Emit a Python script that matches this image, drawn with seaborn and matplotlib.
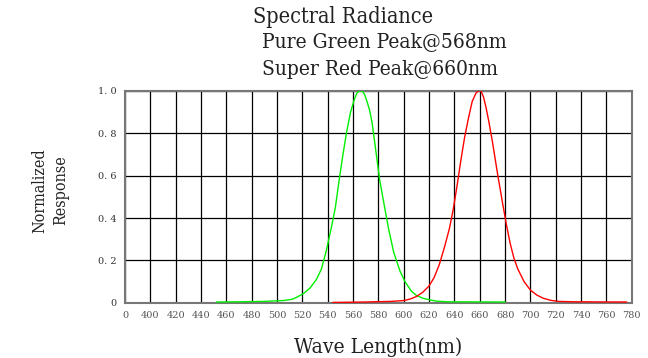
#!/usr/bin/env python3
# -*- coding: utf-8 -*-
"""Spectral radiance of a pure green / super red LED pair, normalized response."""

# =============================================================================
# IMPORTS
# =============================================================================
import matplotlib
matplotlib.use("Agg")
import matplotlib.pyplot as plt  # noqa: E402
import pandas as pd  # noqa: E402
import seaborn as sns  # noqa: E402

# =============================================================================
# DATA
# =============================================================================
green_nm = [452, 470, 490, 505, 512, 516, 521, 526, 531, 535, 539, 543, 546, 549, 552,
            555, 558, 561, 563, 565, 567, 569, 571, 573, 575, 577, 579, 581, 584, 588,
            592, 597, 601, 606, 610, 615, 620, 626, 635, 680]
green_resp = [0.004, 0.005, 0.007, 0.011, 0.017, 0.028, 0.045, 0.07, 0.11, 0.16, 0.25,
              0.36, 0.45, 0.58, 0.70, 0.81, 0.90, 0.96, 0.99, 1.0, 1.0, 0.985, 0.95, 0.91,
              0.85, 0.76, 0.67, 0.58, 0.48, 0.35, 0.24, 0.15, 0.10, 0.055, 0.035, 0.022,
              0.015, 0.008, 0.005, 0.004]

red_nm = [544, 570, 590, 600, 605, 610, 615, 620, 624, 628, 632, 636, 639, 642, 645, 648,
          651, 654, 657, 659, 661, 663, 665, 667, 670, 674, 678, 681, 684, 687, 690, 695,
          700, 705, 710, 716, 722, 735, 776]
red_resp = [0.002, 0.004, 0.007, 0.011, 0.018, 0.03, 0.05, 0.08, 0.12, 0.18, 0.26, 0.35,
            0.44, 0.55, 0.67, 0.78, 0.87, 0.95, 0.99, 1.0, 1.0, 0.97, 0.92, 0.86, 0.76,
            0.61, 0.47, 0.37, 0.28, 0.21, 0.16, 0.10, 0.06, 0.037, 0.022, 0.012, 0.007,
            0.005, 0.004]

x_ticks = list(range(380, 781, 20))
x_tick_labels = ["0"] + [str(v) for v in range(400, 781, 20)]
y_ticks = [0, 0.2, 0.4, 0.6, 0.8, 1.0]
y_tick_labels = ["0", "0. 2", "0. 4", "0. 6", "0. 8", "1. 0"]

title_lines = ["Spectral Radiance", "Pure Green Peak@568nm", "Super Red Peak@660nm"]

# =============================================================================
# PLOTTING
# =============================================================================
sns.set_style("white")
plt.rcParams["font.family"] = ["DejaVu Serif", "DejaVu Sans"]

TEXT_FONT = dict(family="DejaVu Serif", fontstretch="condensed", color="#222222")

fig = plt.figure(figsize=(6.48, 3.58), dpi=100)
ax = fig.add_axes([0.193, 0.154, 0.782, 0.592])

green = pd.DataFrame({"nm": green_nm, "resp": green_resp})
red = pd.DataFrame({"nm": red_nm, "resp": red_resp})
sns.lineplot(data=green, x="nm", y="resp", color="#00ee00", lw=1.0, ax=ax, zorder=3)
sns.lineplot(data=red, x="nm", y="resp", color="#ff0000", lw=1.0, ax=ax, zorder=3)

ax.set_xlim(380, 780)
ax.set_ylim(0, 1.0)
ax.set_xticks(x_ticks)
ax.set_xticklabels(x_tick_labels, fontsize=7, color="#555555", family="DejaVu Serif")
ax.set_yticks(y_ticks)
ax.set_yticklabels(y_tick_labels, fontsize=7, color="#333333", family="DejaVu Serif")
ax.tick_params(length=0, pad=6)
ax.grid(True, color="black", lw=0.9)
ax.set_axisbelow(True)
for spine in ax.spines.values():
    spine.set_color("#777777")
    spine.set_linewidth(1.5)

ax.set_xlabel("Wave Length(nm)", fontsize=15, labelpad=12, **TEXT_FONT)
ax.set_ylabel("Normalized\nResponse", fontsize=11.5, linespacing=1.3, **TEXT_FONT)
ax.yaxis.set_label_coords(-0.11, 0.53)

fig.text(0.530, 0.952, title_lines[0], ha="center", va="center", fontsize=15.5, **TEXT_FONT)
fig.text(0.404, 0.880, title_lines[1], ha="left", va="center", fontsize=15, **TEXT_FONT)
fig.text(0.404, 0.805, title_lines[2], ha="left", va="center", fontsize=15, **TEXT_FONT)

fig.savefig("out.png", dpi=100)
